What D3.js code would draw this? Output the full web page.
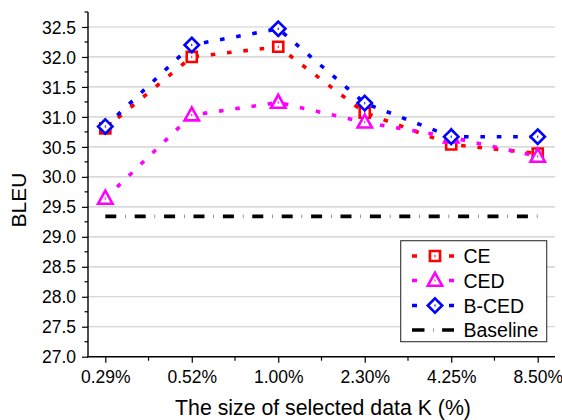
<!DOCTYPE html>
<html>
<head>
<meta charset="utf-8">
<script src="https://cdn.jsdelivr.net/npm/d3@7"></script>
<style>
  html, body { margin: 0; padding: 0; background: #fff; }
  svg { display: block; font-family: "Liberation Sans", Arial, sans-serif; }
</style>
</head>
<body>
<svg id="chart" width="562" height="420"></svg>
<script>
// ---- data ----
const categories = ["0.29%", "0.52%", "1.00%", "2.30%", "4.25%", "8.50%"];
const ceValues    = [30.81, 32.00, 32.17, 31.07, 30.54, 30.39];
const cedValues   = [29.64, 31.03, 31.24, 30.91, 30.66, 30.34];
const bcedValues  = [30.84, 32.20, 32.47, 31.23, 30.67, 30.67];
const baselineValue = 29.34;
const yTickValues = [27.0, 27.5, 28.0, 28.5, 29.0, 29.5, 30.0, 30.5, 31.0, 31.5, 32.0, 32.5];
const seriesNames = ["CE", "CED", "B-CED", "Baseline"];

const svg = d3.select("#chart");
const pLeft = 88, pRight = 555, pTop = 12, pBottom = 356.7;

const x = d3.scalePoint().domain(categories).range([pLeft, pRight]).padding(0.2);
const y = d3.scaleLinear().domain([27.0, 32.75]).range([pBottom, pTop]);

// gridlines
svg.append("g").selectAll("line")
  .data(yTickValues.filter(v => v > 27.0))
  .join("line")
  .attr("x1", pLeft).attr("x2", pRight)
  .attr("y1", d => y(d)).attr("y2", d => y(d))
  .attr("stroke", "#cccccc").attr("stroke-width", 1.2);

// y axis
const yAxis = d3.axisLeft(y).tickValues(yTickValues).tickFormat(d3.format(".1f")).tickSize(6).tickSizeOuter(0);
const gy = svg.append("g").attr("transform", `translate(${pLeft},0)`).call(yAxis);
gy.select(".domain").remove();
gy.selectAll(".tick line").attr("stroke", "#000").attr("stroke-width", 1.2);
gy.selectAll(".tick text").attr("font-size", 17.5).attr("fill", "#000").attr("x", -12).attr("dy", "0.35em")
  .attr("font-family", "'Liberation Sans', Arial, sans-serif");
// minor y ticks
const yMinor = d3.range(27.25, 32.8, 0.5);
svg.append("g").selectAll("line").data(yMinor).join("line")
  .attr("x1", pLeft - 3.5).attr("x2", pLeft)
  .attr("y1", d => y(d)).attr("y2", d => y(d))
  .attr("stroke", "#000").attr("stroke-width", 1.2);
svg.append("line").attr("x1", pLeft).attr("x2", pLeft).attr("y1", pTop).attr("y2", pBottom + 0.6)
  .attr("stroke", "#000").attr("stroke-width", 1.4);

// x axis
const xAxis = d3.axisBottom(x).tickSize(6).tickSizeOuter(0);
const gx = svg.append("g").attr("transform", `translate(0,${pBottom})`).call(xAxis);
gx.select(".domain").remove();
gx.selectAll(".tick line").attr("stroke", "#000").attr("stroke-width", 1.2);
gx.selectAll(".tick text").attr("font-size", 17.5).attr("fill", "#000").attr("y", 14).attr("dy", "0.71em")
  .attr("font-family", "'Liberation Sans', Arial, sans-serif");
// minor x ticks (midpoints)
const xMid = categories.slice(1).map((c, i) => (x(categories[i]) + x(c)) / 2);
svg.append("g").selectAll("line").data(xMid).join("line")
  .attr("x1", d => d).attr("x2", d => d)
  .attr("y1", pBottom).attr("y2", pBottom + 4)
  .attr("stroke", "#000").attr("stroke-width", 1.2);
svg.append("line").attr("x1", pLeft - 0.7).attr("x2", pRight).attr("y1", pBottom).attr("y2", pBottom)
  .attr("stroke", "#000").attr("stroke-width", 1.4);

// axis titles
svg.append("text").attr("x", 323).attr("y", 415).attr("text-anchor", "middle")
  .attr("font-size", 21.3).attr("fill", "#000").text("The size of selected data K (%)");
svg.append("text").attr("transform", "translate(26,200) rotate(-90)").attr("text-anchor", "middle")
  .attr("font-size", 21).attr("fill", "#000").text("BLEU");

// baseline
const baseDash = "11 9 0.4 9";
svg.append("line")
  .attr("x1", x(categories[0])).attr("x2", x(categories[categories.length - 1]))
  .attr("y1", y(baselineValue)).attr("y2", y(baselineValue))
  .attr("stroke", "#000").attr("stroke-width", 3.6).attr("stroke-dasharray", baseDash);

// marker shapes
function markerPath(type, s) {
  if (type === "square") { const h = s * 0.42; return `M${-h},${-h}H${h}V${h}H${-h}Z`; }
  if (type === "triangle") { const w = s * 0.6, ht = s * 1.04; return `M0,${-ht * 0.62}L${w},${ht * 0.42}L${-w},${ht * 0.42}Z`; }
  if (type === "diamond") { const h = s * 0.6; return `M0,${-h}L${h},0L0,${h}L${-h},0Z`; }
}

const series = [
  { name: "CE", values: ceValues, color: "#ff0000", marker: "square" },
  { name: "CED", values: cedValues, color: "#ff00ff", marker: "triangle" },
  { name: "B-CED", values: bcedValues, color: "#0000ff", marker: "diamond" }
];
const seriesDash = "4.6 11.8";
const line = d3.line().x((d, i) => x(categories[i])).y(d => y(d));

series.forEach(s => {
  svg.append("path").datum(s.values).attr("d", line)
    .attr("fill", "none").attr("stroke", s.color).attr("stroke-width", 3.6)
    .attr("stroke-dasharray", seriesDash);
  const g = svg.append("g");
  g.selectAll("path").data(s.values).join("path")
    .attr("transform", (d, i) => `translate(${x(categories[i])},${y(d)})`)
    .attr("d", markerPath(s.marker, 12))
    .attr("fill", "#fff").attr("stroke", s.color).attr("stroke-width", 2.6);
  g.selectAll("rect").data(s.values).join("rect")
    .attr("x", (d, i) => x(categories[i]) - 0.5).attr("y", d => y(d) - 1.2)
    .attr("width", 1).attr("height", 2.4).attr("fill", s.color);
});

// legend
const lg = svg.append("g");
lg.append("rect").attr("x", 400.7).attr("y", 240.7).attr("width", 146).attr("height", 101)
  .attr("fill", "#fff").attr("stroke", "#333").attr("stroke-width", 1.1);
const rowY = [256, 280.5, 305.5, 330];
const legendItems = series.concat([{ name: "Baseline", color: "#000", marker: null }]);
legendItems.forEach((s, i) => {
  const cy = rowY[i];
  if (s.marker) {
    lg.append("line").attr("x1", 412).attr("x2", 454).attr("y1", cy).attr("y2", cy)
      .attr("stroke", s.color).attr("stroke-width", 3.6).attr("stroke-dasharray", "5 32 5");
    lg.append("path").attr("transform", `translate(435,${cy})`).attr("d", markerPath(s.marker, 12))
      .attr("fill", "#fff").attr("stroke", s.color).attr("stroke-width", 2.6);
    lg.append("rect").attr("x", 434.5).attr("y", cy - 1.2).attr("width", 1).attr("height", 2.4).attr("fill", s.color);
  } else {
    lg.append("line").attr("x1", 412).attr("x2", 454).attr("y1", cy).attr("y2", cy)
      .attr("stroke", "#000").attr("stroke-width", 3.6).attr("stroke-dasharray", "12.5 8.6 0.4 8.6 12.5");
  }
  lg.append("text").attr("x", 463.5).attr("y", cy).attr("dy", "0.36em")
    .attr("font-size", 19.5).attr("fill", "#000").text(s.name);
});
</script>
</body>
</html>
